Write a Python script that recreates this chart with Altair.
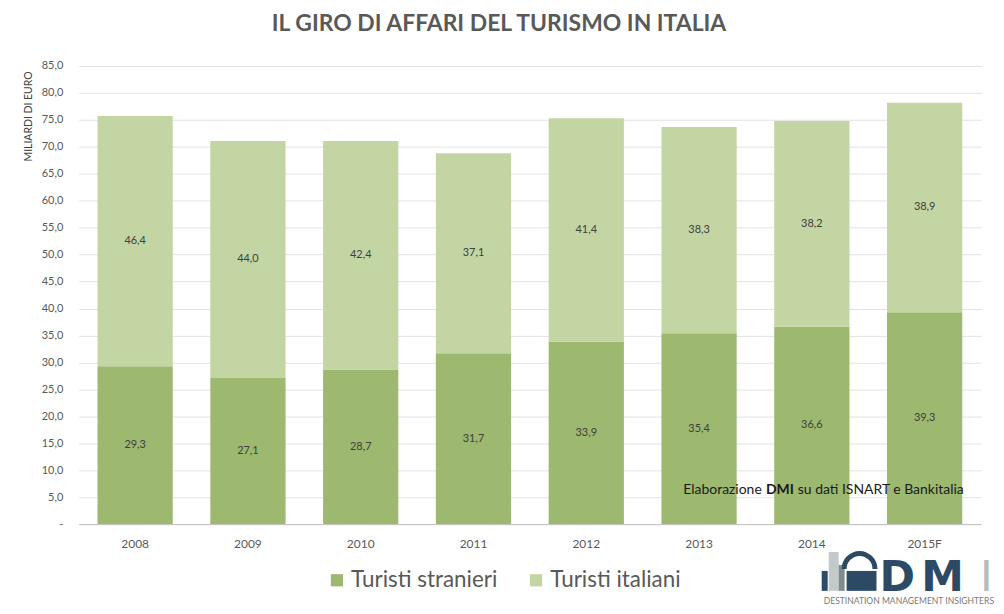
import altair as alt
import pandas as pd

years = ["2008", "2009", "2010", "2011", "2012", "2013", "2014", "2015F"]
stranieri = [29.3, 27.1, 28.7, 31.7, 33.9, 35.4, 36.6, 39.3]
italiani = [46.4, 44.0, 42.4, 37.1, 41.4, 38.3, 38.2, 38.9]
series = ["Turisti stranieri", "Turisti italiani"]
colors = ["#9DB86F", "#C4D5A4"]
y_ticks = [0, 5, 10, 15, 20, 25, 30, 35, 40, 45, 50, 55, 60, 65, 70, 75, 80, 85]

rows = []
for i, y in enumerate(years):
    rows.append({"year": y, "serie": series[0], "value": stranieri[i], "ord": 0})
    rows.append({"year": y, "serie": series[1], "value": italiani[i], "ord": 1})
df = pd.DataFrame(rows)

FONT = "Lato"
W, H = 906, 460
BLUE = "#2C4A64"

base = alt.Chart(df).transform_stack(
    stack="value", as_=["y0", "y1"], groupby=["year"], sort=[alt.SortField("ord")]
).transform_calculate(mid="(datum.y0 + datum.y1) / 2")

yscale = alt.Scale(domain=[0, 85], nice=False)
xscale = alt.Scale(paddingInner=0.333, paddingOuter=0.1667)

xaxis = alt.Axis(labelAngle=0, labelFontSize=12, labelColor="#595959",
                 labelFont=FONT, labelPadding=14, ticks=False,
                 domainColor="#BFBFBF", domainWidth=1)
yaxis = alt.Axis(values=y_ticks, labelOverlap=False,
                 labelExpr="datum.value == 0 ? '-' : replace(format(datum.value, '.1f'), '.', ',')",
                 labelFontSize=11, labelColor="#595959", labelFont=FONT,
                 labelPadding=16, ticks=False, domain=False,
                 gridColor="#E3E3E3", gridWidth=1,
                 titleFont=FONT, titleFontSize=10.5, titleFontWeight="normal",
                 titleColor="#404040", titleAngle=270, titleX=-50, titleY=5,
                 titleAlign="right", titleBaseline="middle")
YTITLE = "MILIARDI DI EURO"

bars = base.mark_bar().encode(
    x=alt.X("year:N", sort=years, title=None, scale=xscale, axis=xaxis),
    y=alt.Y("y0:Q", title=YTITLE, scale=yscale, axis=yaxis),
    y2="y1:Q",
    color=alt.Color("serie:N", sort=series,
                    scale=alt.Scale(domain=series, range=colors),
                    legend=alt.Legend(title=None, orient="none", direction="horizontal",
                                      legendX=248, legendY=505,
                                      symbolType="square", symbolSize=150,
                                      symbolStrokeWidth=0, symbolOpacity=1,
                                      labelFontSize=22.5, labelFont=FONT,
                                      labelColor="#595959", labelOffset=3,
                                      columnPadding=27)),
    order=alt.Order("ord:Q"),
)

labels = base.mark_text(font=FONT, fontSize=11, color="#404040").encode(
    x=alt.X("year:N", sort=years, title=None, scale=xscale, axis=xaxis),
    y=alt.Y("mid:Q", title=YTITLE, scale=yscale, axis=yaxis),
    text=alt.Text("label:N"),
).transform_calculate(label="replace(format(datum.value, '.1f'), '.', ',')")

note_parts = ["Elaborazione", "DMI", "su dati ISNART e Bankitalia"]
note_df = pd.DataFrame({"t": note_parts})

def txt(df_, val, x, y, **kw):
    return alt.Chart(df_).transform_filter(alt.datum.t == val).mark_text(**kw).encode(
        x=alt.value(x), y=alt.value(y), text="t:N")

note1 = txt(note_df, note_parts[0], 607, 426, font=FONT, fontSize=14, color="#1a1a1a",
            align="left", baseline="middle")
note2 = txt(note_df, note_parts[1], 690, 426, font=FONT, fontSize=14, fontWeight="bold",
            color="#1a1a1a", align="left", baseline="middle")
note3 = txt(note_df, note_parts[2], 722, 426, font=FONT, fontSize=14, color="#1a1a1a",
            align="left", baseline="middle")

LF = "DejaVu Sans"
logo_parts = ["D", "M", "I", "DESTINATION MANAGEMENT INSIGHTERS"]
logo_df = pd.DataFrame({"t": logo_parts})
ld = txt(logo_df, "D", 804, 527, font=LF, fontSize=43, fontWeight="bold", color=BLUE,
         align="left", baseline="alphabetic")
lm = txt(logo_df, "M", 846, 527, font=LF, fontSize=43, fontWeight="bold", color=BLUE,
         align="left", baseline="alphabetic")
li = txt(logo_df, "I", 905, 527, font=LF, fontSize=43, color="#B4BDBD",
         align="left", baseline="alphabetic")
tag = txt(logo_df, logo_parts[3], 748, 537, font=FONT, fontSize=8.6, color="#7A7A7A",
          align="left", baseline="middle")

icon_df = pd.DataFrame({"k": ["icon"]})
def rect(x, x2, y, y2, c):
    return alt.Chart(icon_df).mark_rect(color=c).encode(
        x=alt.value(x), x2=alt.value(x2), y=alt.value(y), y2=alt.value(y2))

icon_a = rect(753, 763, 488, 527, "#C3CACA")
icon_b = rect(746, 752, 507, 527, BLUE)
icon_c = rect(763, 769, 501, 527, "#7F8C8D")
icon_d = rect(771, 801, 507, 527, BLUE)
arc = alt.Chart(icon_df).mark_arc(
    color=BLUE, innerRadius=13, outerRadius=18, theta=4.7124, theta2=7.854
).encode(x=alt.value(784), y=alt.value(505))

chart = alt.layer(bars, labels, note1, note2, note3, icon_a, icon_b, icon_c, icon_d, arc,
                  ld, lm, li, tag).properties(
    width=W, height=H,
    title=alt.Title("IL GIRO DI AFFARI DEL TURISMO IN ITALIA", font=FONT, fontSize=23,
                    fontWeight="bold", color="#595959", anchor="middle", dx=-31, offset=24),
    autosize=alt.AutoSizeParams(type="none"),
    padding={"left": 71, "top": 57, "right": 15, "bottom": 81},
).configure_view(stroke=None).configure_axis(labelFont=FONT)

chart.save("out.html", embed_options={"renderer": "svg", "actions": False})
